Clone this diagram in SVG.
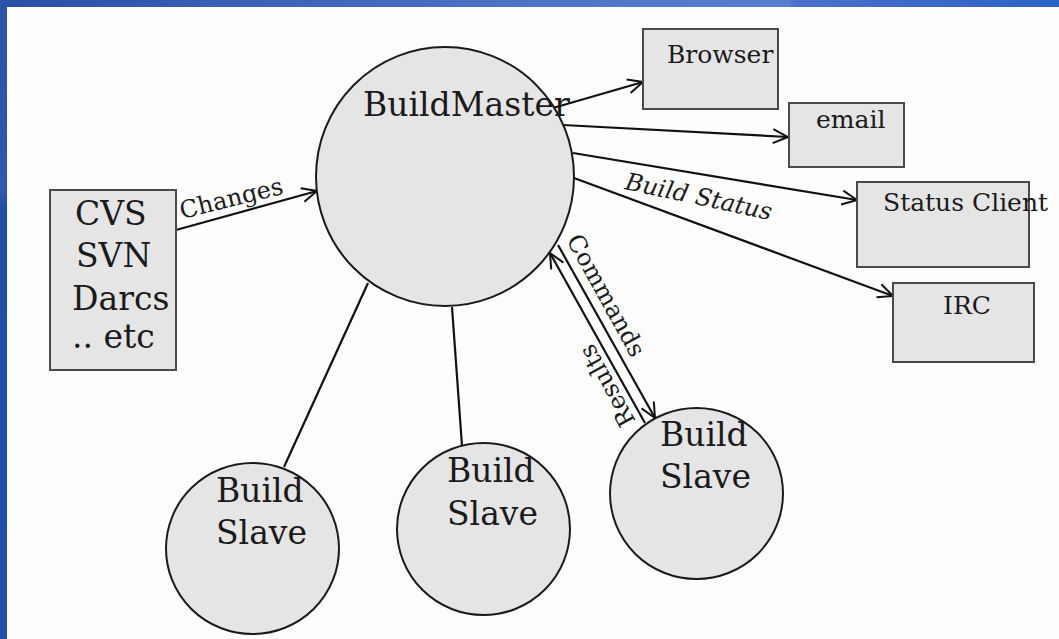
<svg xmlns="http://www.w3.org/2000/svg" width="1059" height="639" viewBox="0 0 1059 639">
  <defs>
    <linearGradient id="bandTop" x1="0" y1="0" x2="1" y2="0">
      <stop offset="0" stop-color="#2a4fa6"/>
      <stop offset="0.5" stop-color="#4f74c6"/>
      <stop offset="0.745" stop-color="#5a7fcf"/>
      <stop offset="0.75" stop-color="#4c71c8"/>
      <stop offset="1" stop-color="#2c62c6"/>
    </linearGradient>
    <linearGradient id="bandLeft" x1="0" y1="0" x2="0" y2="1">
      <stop offset="0" stop-color="#2b52ab"/>
      <stop offset="0.3" stop-color="#3157b0"/>
      <stop offset="0.32" stop-color="#234ea6"/>
      <stop offset="1" stop-color="#214ea8"/>
    </linearGradient>
    <marker id="open" markerUnits="userSpaceOnUse" markerWidth="20" markerHeight="20" refX="16" refY="8" orient="auto" overflow="visible">
      <path d="M1,1 L16,8 L1,15" fill="none" stroke="#111" stroke-width="2"/>
    </marker>
  </defs>
  <style>
    .box { fill: #e5e5e5; stroke: #4a4a4a; stroke-width: 2; }
    .node { fill: #e5e5e5; stroke: #1a1a1a; stroke-width: 2; }
    .link { fill: none; stroke: #111; stroke-width: 2.2; }
    .t { font-family: "DejaVu Serif", "Liberation Serif", serif; fill: #1a1a1a; }
    .big { font-size: 33px; }
    .mid { font-size: 25px; }
    .lbl { font-size: 24px; }
  </style>

  <!-- page frame -->
  <rect x="0" y="0" width="1059" height="639" fill="#fdfdfd"/>
  <rect x="0" y="0" width="1059" height="7" fill="url(#bandTop)"/>
  <rect x="0" y="0" width="7" height="639" fill="url(#bandLeft)"/>

  <!-- connectors -->
  <g id="connectors">
    <line class="link" x1="176" y1="230" x2="317" y2="191" marker-end="url(#open)"/>
    <line class="link" x1="553" y1="108" x2="643" y2="82" marker-end="url(#open)"/>
    <line class="link" x1="563" y1="125" x2="788" y2="137" marker-end="url(#open)"/>
    <line class="link" x1="573" y1="153" x2="857" y2="200" marker-end="url(#open)"/>
    <line class="link" x1="574" y1="178" x2="893" y2="296" marker-end="url(#open)"/>
    <line class="link" x1="558" y1="245" x2="655" y2="418" marker-end="url(#open)"/>
    <line class="link" x1="645" y1="423" x2="550" y2="253" marker-end="url(#open)"/>
    <line class="link" x1="368" y1="283" x2="284" y2="467"/>
    <line class="link" x1="452" y1="307" x2="462" y2="446"/>
    <text class="t lbl" transform="translate(182,219) rotate(-14)">Changes</text>
    <text class="t lbl" font-style="italic" transform="translate(624,189) rotate(12)">Build Status</text>
    <text class="t lbl" transform="translate(566,240) rotate(61)">Commands</text>
    <text class="t lbl" transform="translate(636,421) rotate(-119)">Results</text>
  </g>

  <!-- source control box -->
  <g id="vcs">
    <rect class="box" x="50" y="190" width="126" height="180"/>
    <text class="t big" x="75" y="225">CVS</text>
    <text class="t big" x="76" y="267">SVN</text>
    <text class="t big" x="72" y="310">Darcs</text>
    <text class="t big" x="72" y="348">.. etc</text>
  </g>

  <g id="buildmaster">
    <ellipse class="node" cx="445" cy="176.5" rx="129" ry="129.5"/>
    <text class="t big" x="363" y="116">BuildMaster</text>
  </g>

  <g id="browser">
    <rect class="box" x="643" y="29" width="135" height="80"/>
    <text class="t mid" x="667" y="63">Browser</text>
  </g>

  <g id="email">
    <rect class="box" x="789" y="103" width="115" height="64"/>
    <text class="t mid" x="816" y="128">email</text>
  </g>

  <g id="status-client">
    <rect class="box" x="857" y="182" width="172" height="85"/>
    <text class="t mid" x="883" y="211">Status Client</text>
  </g>

  <g id="irc">
    <rect class="box" x="893" y="283" width="141" height="79"/>
    <text class="t mid" x="943" y="314">IRC</text>
  </g>

  <g id="slave1">
    <ellipse class="node" cx="252.5" cy="548.5" rx="86.5" ry="85.5"/>
    <text class="t big" x="216" y="502">Build</text>
    <text class="t big" x="216" y="544">Slave</text>
  </g>

  <g id="slave2">
    <ellipse class="node" cx="483.5" cy="529" rx="86.5" ry="86"/>
    <text class="t big" x="447" y="482">Build</text>
    <text class="t big" x="447" y="525">Slave</text>
  </g>

  <g id="slave3">
    <ellipse class="node" cx="696.5" cy="493.5" rx="86.5" ry="85.5"/>
    <text class="t big" x="660" y="446">Build</text>
    <text class="t big" x="660" y="488">Slave</text>
  </g>
</svg>
